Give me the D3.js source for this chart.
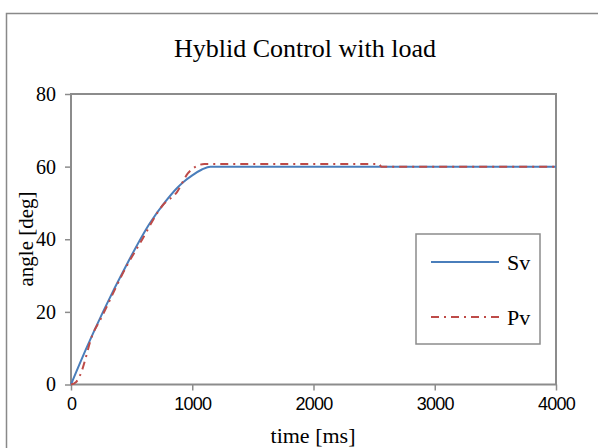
<!DOCTYPE html>
<meta charset="utf-8">
<style>
  body { margin: 0; background: #fff; }
  .serif { font-family: "Liberation Serif", "Times New Roman", serif; }
  .sans { font-family: "Liberation Sans", Arial, sans-serif; }
</style>
<body>
<script src="https://cdn.jsdelivr.net/npm/d3@7"></script>
<script>

var width = 598
var height = 448

// data
var svTime = [0, 130, 264, 462, 650, 775, 875, 925, 1000, 1080, 1150, 4000]
var svAngle = [0, 10.2, 20, 33.2, 44.4, 50.2, 54.1, 55.7, 57.6, 59.2, 60, 60]
var pvTime = [0, 40, 74, 181, 239, 462, 569, 760, 874, 965, 1040, 1100, 2540, 2560, 4000]
var pvAngle = [0, 0.6, 2.5, 14, 17.7, 32.8, 38.9, 49.5, 53, 58.2, 60.2, 60.7, 60.7, 60, 60]
var xTicks = [0, 1000, 2000, 3000, 4000]
var yTicks = [0, 20, 40, 60, 80]
var seriesNames = ["Sv", "Pv"]

var svg = d3.select("body")
      .append("svg")
      .attr("width", width)
      .attr("height", height);

// outer frame (runs off the right / bottom edge)
svg.append("rect")
  .attr("x", 6.5).attr("y", 13.5)
  .attr("width", 620).attr("height", 460)
  .attr("fill", "none").attr("stroke", "#898989").attr("stroke-width", 1.5);

var x = d3.scaleLinear().domain([0, 4000]).range([71, 556]);
var y = d3.scaleLinear().domain([0, 80]).range([384.5, 94]);

var sv = svTime.map(function (t, i) { return [t, svAngle[i]]; });
var pv = pvTime.map(function (t, i) { return [t, pvAngle[i]]; });

// plot frame
svg.append("rect")
  .attr("x", x(0)).attr("y", y(80))
  .attr("width", x(4000) - x(0)).attr("height", y(0) - y(80))
  .attr("fill", "none").attr("stroke", "#8c8c8c").attr("stroke-width", 2);

var xAxis = svg.append("g")
  .attr("transform", "translate(0," + y(0) + ")")
  .call(d3.axisBottom(x).tickValues(xTicks).tickFormat(d3.format("d")).tickSize(6).tickPadding(7));
xAxis.selectAll("path").remove();
xAxis.selectAll("line").attr("stroke", "#8c8c8c").attr("stroke-width", 1.5);
xAxis.selectAll("text").attr("class", "sans").attr("font-size", 18).attr("fill", "#000")
  .attr("letter-spacing", "-0.8px");

var yAxis = svg.append("g")
  .attr("transform", "translate(" + x(0) + ",0)")
  .call(d3.axisLeft(y).tickValues(yTicks).tickFormat(d3.format("d")).tickSize(6).tickPadding(9));
yAxis.selectAll("path").remove();
yAxis.selectAll("line").attr("stroke", "#8c8c8c").attr("stroke-width", 1.5);
yAxis.selectAll("text").attr("class", "serif").attr("font-size", 20).attr("fill", "#000");

var line = d3.line()
  .x(function (d) { return x(d[0]); })
  .y(function (d) { return y(d[1]); })
  .curve(d3.curveMonotoneX);

svg.append("path")
  .datum(sv)
  .attr("d", line)
  .attr("fill", "none").attr("stroke", "#4a7ebb").attr("stroke-width", 2);

svg.append("path")
  .datum(pv)
  .attr("d", line)
  .attr("fill", "none").attr("stroke", "#be4b48").attr("stroke-width", 2)
  .attr("stroke-dasharray", "8,5,2,5");

// title and axis labels
svg.append("text")
  .attr("class", "serif")
  .attr("x", 305).attr("y", 57)
  .attr("text-anchor", "middle")
  .attr("font-size", 26)
  .text("Hyblid Control with load");

svg.append("text")
  .attr("class", "serif")
  .attr("x", 313).attr("y", 443)
  .attr("text-anchor", "middle")
  .attr("font-size", 22)
  .text("time [ms]");

svg.append("text")
  .attr("class", "serif")
  .attr("transform", "translate(33,239) rotate(-90)")
  .attr("text-anchor", "middle")
  .attr("font-size", 21)
  .text("angle [deg]");

// legend
var legend = svg.append("g");
legend.append("rect")
  .attr("x", 416).attr("y", 234)
  .attr("width", 124).attr("height", 110)
  .attr("fill", "#fff").attr("stroke", "#8c8c8c").attr("stroke-width", 1.5);

var legendY = [262, 317];
var legendColor = ["#4a7ebb", "#be4b48"];
var legendDash = [null, "8,5,2,5"];
seriesNames.forEach(function (name, i) {
  legend.append("line")
    .attr("x1", 431).attr("x2", 499)
    .attr("y1", legendY[i]).attr("y2", legendY[i])
    .attr("stroke", legendColor[i]).attr("stroke-width", 2)
    .attr("stroke-dasharray", legendDash[i]);
  legend.append("text")
    .attr("class", "serif")
    .attr("x", 507).attr("y", legendY[i] + 8)
    .attr("font-size", 22)
    .text(name);
});

</script>
</body>
